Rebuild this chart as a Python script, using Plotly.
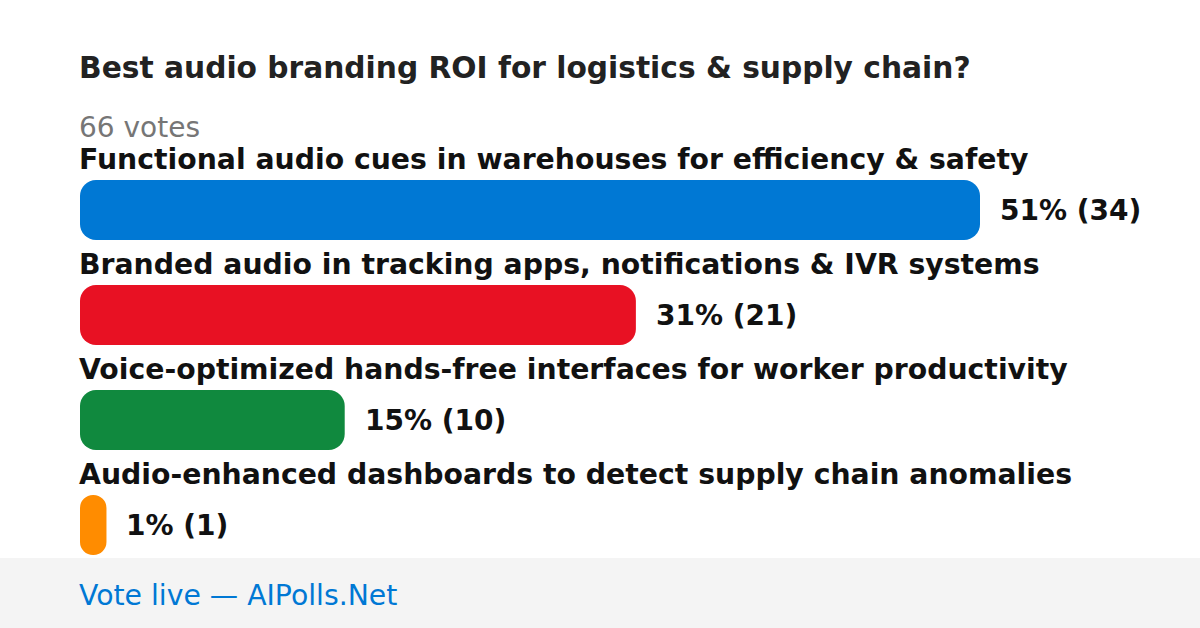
import plotly.graph_objects as go

title = "Best audio branding ROI for logistics & supply chain?"
total_votes = 66
categories = [
    "Functional audio cues in warehouses for efficiency & safety",
    "Branded audio in tracking apps, notifications & IVR systems",
    "Voice-optimized hands-free interfaces for worker productivity",
    "Audio-enhanced dashboards to detect supply chain anomalies",
]
votes = [34, 21, 10, 1]
percents = [51, 31, 15, 1]
colors = ["#0078d4", "#e81123", "#10893e", "#ff8c00"]
footer = "Vote live — AIPolls.Net"

W, H = 1200, 628
FONT = "DejaVu Sans"
idx = list(range(len(categories)))
bw = 60 / 105

fig = go.Figure()
fig.add_trace(go.Bar(
    x=votes, base=[0] * len(votes), y=idx,
    orientation="h", marker=dict(color=colors, cornerradius=16, line=dict(width=0)),
    width=bw, hoverinfo="skip",
))

y_top = -210 / 105
y_bot = (H - 210) / 105

for i, (cat, v, p) in enumerate(zip(categories, votes, percents)):
    fig.add_annotation(x=0, y=i - 51 / 105, xref="x", yref="y", text=f"<b>{cat}</b>",
                       showarrow=False, xanchor="left", yanchor="middle", xshift=-3,
                       font=dict(family=FONT, size=28.3, color="#111111"))
    fig.add_annotation(x=v, y=i, xref="x", yref="y", text=f"<b>{p}% ({v})</b>",
                       showarrow=False, xanchor="left", yanchor="middle", xshift=18,
                       font=dict(family=FONT, size=28, color="#111111"))

def py(px):
    return 1 - px / H

fig.add_annotation(x=0, y=py(68), xref="paper", yref="paper", text=f"<b>{title}</b>",
                   showarrow=False, xanchor="left", yanchor="middle", xshift=-3,
                   font=dict(family=FONT, size=29.7, color="#222222"))
fig.add_annotation(x=0, y=py(127), xref="paper", yref="paper", text=f"{total_votes} votes",
                   showarrow=False, xanchor="left", yanchor="middle", xshift=-3,
                   font=dict(family=FONT, size=28, color="#767676"))
fig.add_shape(type="rect", xref="paper", yref="paper", x0=-1, x1=2, y0=0, y1=py(558),
              fillcolor="#f4f4f4", line=dict(width=0), layer="below")
fig.add_annotation(x=0, y=py(595), xref="paper", yref="paper", text=footer,
                   showarrow=False, xanchor="left", yanchor="middle", xshift=-3,
                   font=dict(family=FONT, size=28.3, color="#0078d4"))

fig.update_layout(
    width=W, height=H, margin=dict(l=80, r=220, t=0, b=0),
    paper_bgcolor="white", plot_bgcolor="rgba(0,0,0,0)",
    showlegend=False, barmode="overlay",
    xaxis=dict(range=[0, max(votes)], visible=False, fixedrange=True),
    yaxis=dict(range=[y_bot, y_top], visible=False, fixedrange=True),
)
fig.write_html("out.html", config={"displayModeBar": False},
               post_script="document.body.style.margin='0';document.body.style.overflow='hidden';")
